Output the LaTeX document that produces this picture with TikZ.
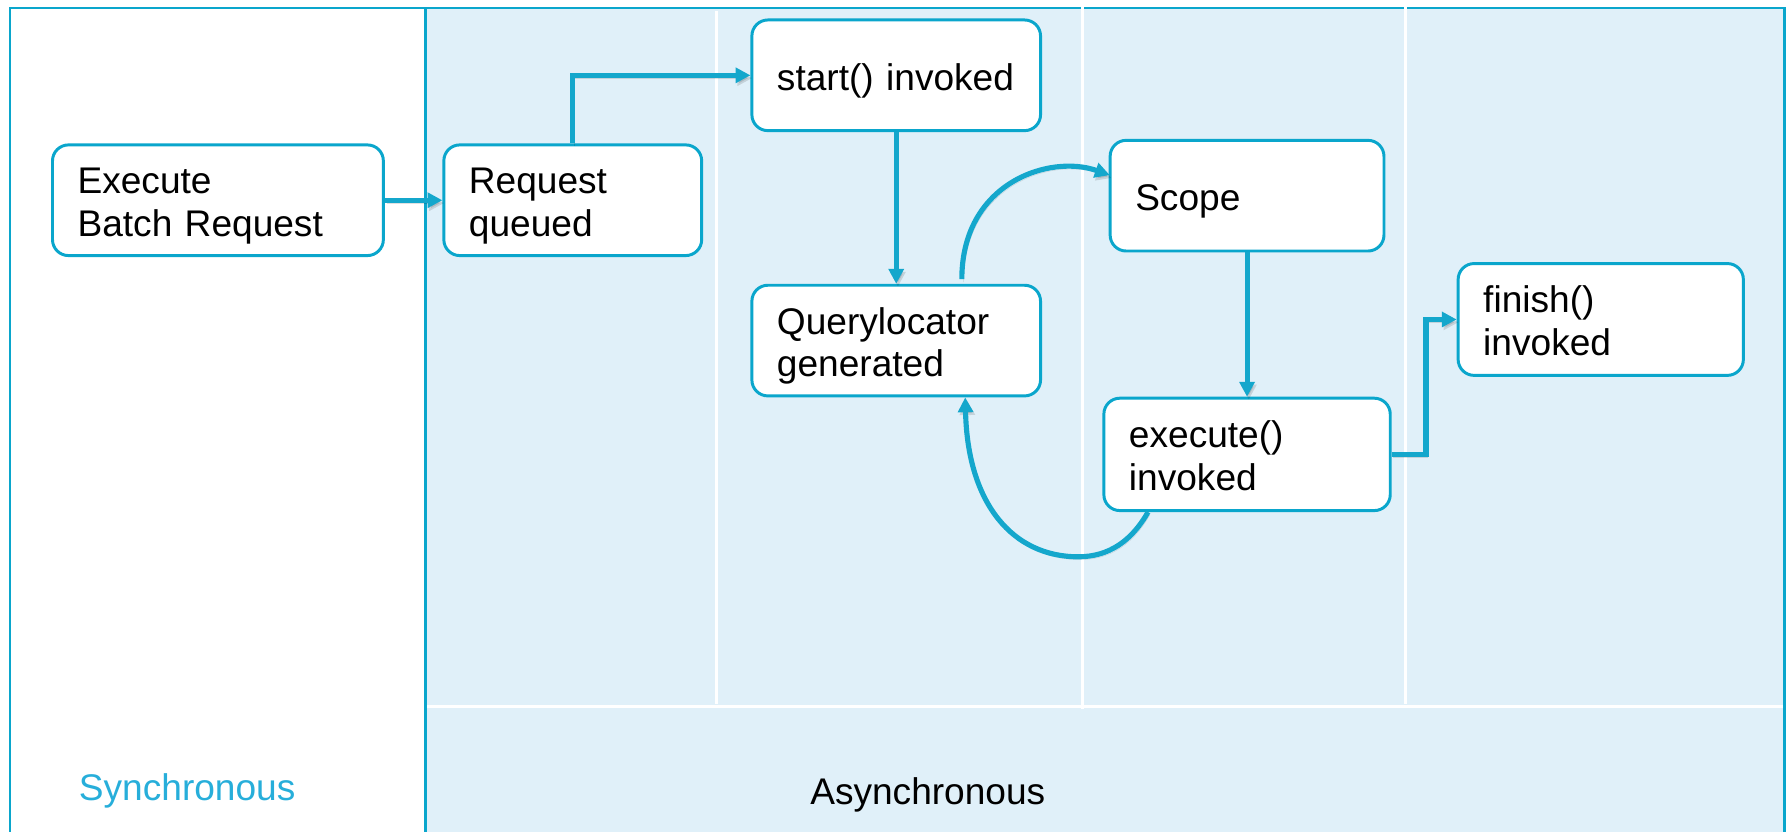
\documentclass[tikz,border=0pt]{standalone}
\usepackage{fontspec}
\setmainfont{Liberation Sans}
\usetikzlibrary{arrows.meta,calc}
\definecolor{bordc}{HTML}{0AA6CC}
\definecolor{arrc}{HTML}{14A7CC}
\definecolor{lblue}{HTML}{E0F0F9}
\definecolor{synct}{HTML}{27AEDA}
\begin{document}
\begin{tikzpicture}[x=1pt,y=-1pt,
  box/.style={draw=bordc, line width=2.6pt, fill=white, rounded corners=14pt,
    inner xsep=22pt, inner ysep=0pt, align=left,
    font=\fontsize{32.5}{37.5}\selectfont,
    execute at begin node={\rule{0pt}{36pt}},
    execute at end node={\rule[-10pt]{0pt}{10pt}}},
  arr/.style={draw=arrc, line width=4.5pt, -{Triangle[length=13pt,width=13pt]},
    preaction={draw=black, opacity=0.12, transform canvas={shift={(1.5pt,-2.5pt)}}}},
  lbl/.style={anchor=base west, inner sep=0pt, font=\fontsize{32.5}{37.5}\selectfont},
  frame/.style={draw=bordc, line width=2pt},
  sep/.style={draw=white, line width=2.5pt}]
\useasboundingbox (0,0) rectangle (1568,729);
% background
\fill[lblue] (373,7) rectangle (1564,732);
\draw[frame] (8.5,732) -- (8.5,7) -- (1564,7) -- (1564,732);
\draw[frame] (373,7) -- (373,732);
\draw[sep] (374.5,619) -- (1562.5,619);
\draw[sep] (628,10) -- (628,617);
\draw[sep] (949,4) -- (949,621);
\draw[sep] (1232,4) -- (1232,617);
% nodes
\node[box, text width=246pt, minimum height=97pt] (exec) at (191,175.5) {Execute\\Batch Request};
\node[box, text width=182pt, minimum height=97pt] (req) at (502,175.5) {Request\\queued};
\node[box, text width=209pt, minimum height=97pt] (start) at (785.5,66) {start() invoked};
\node[box, text width=209pt, minimum height=97pt] (ql) at (785.5,298.5) {Querylocator\\generated};
\node[box, text width=196pt, minimum height=97pt] (scope) at (1093,171.5) {Scope};
\node[box, text width=207pt, minimum height=98.5pt] (execi) at (1093,398.25) {execute()\\invoked};
\node[box, text width=206pt, minimum height=98pt] (fin) at (1403,280) {finish()\\invoked};
% labels
\node[lbl, text=synct] (sync) at (69,701.5) {Synchronous};
\node[lbl] (async) at (710,705) {Asynchronous};
% connectors
\draw[arr] (exec.east) -- (req.west);
\draw[arr] (req.north) |- (start.west);
\draw[arr] (start.south) -- (ql.north);
\draw[arr] ($(ql.north)+(57.5,-4)$) .. controls (843,160) and (920,135) .. ($(scope.west)+(1,-18)$);
\draw[arr] (scope.south) -- (execi.north);
\draw[arr] ($(execi.south west)+(40,0)$) .. controls (992,474) and (972,488) .. (945,488)
  .. controls (888,488) and (848,442) .. ($(ql.south)+(60.5,0)$);
\draw[arr] (execi.east) -- ++(30,0) |- (fin.west);
\end{tikzpicture}
\end{document}
